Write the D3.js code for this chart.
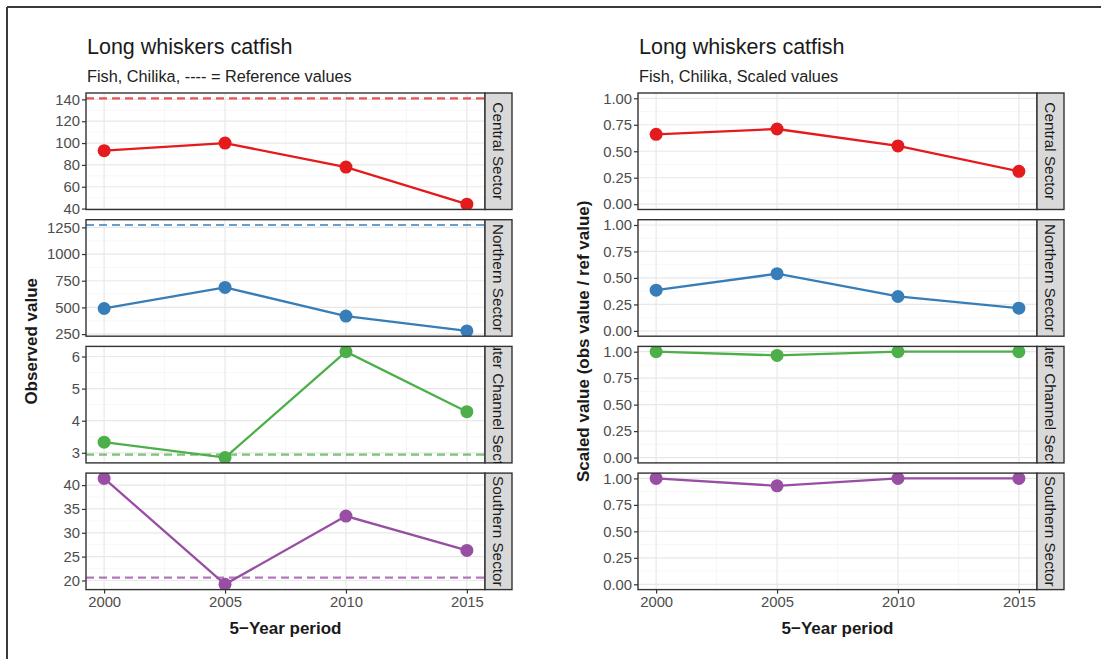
<!DOCTYPE html>
<html>
<head>
<meta charset="utf-8">
<script src="https://cdn.jsdelivr.net/npm/d3@7"></script>
<style>
  html, body { margin: 0; padding: 0; background: #fff; }
  svg { display: block; font-family: "Liberation Sans", Arial, sans-serif; }
</style>
</head>
<body>
<svg id="chart" width="1101" height="659"></svg>
<script>
// ---------------- data ----------------
const years = [2000, 2005, 2010, 2015];
const xTicks = [2000, 2005, 2010, 2015];
const sectors = ["Central Sector", "Northern Sector", "Outer Channel Sector", "Southern Sector"];
const sectorColors = ["#E41A1C", "#377EB8", "#4DAF4A", "#984EA3"];

const observedCentral = [93, 100, 78, 44];
const observedNorthern = [490, 687, 419, 280];
const observedChannel = [3.33, 2.85, 6.15, 4.28];
const observedSouthern = [41.4, 19.2, 33.5, 26.3];
const referenceValues = [141, 1272, 2.94, 20.6];

const scaledCentral = [0.66, 0.71, 0.55, 0.31];
const scaledNorthern = [0.385, 0.54, 0.325, 0.215];
const scaledChannel = [1.0, 0.965, 1.0, 1.0];
const scaledSouthern = [1.0, 0.93, 1.0, 1.0];

const yTicksCentral = [40, 60, 80, 100, 120, 140];
const yTicksNorthern = [250, 500, 750, 1000, 1250];
const yTicksChannel = [3, 4, 5, 6];
const yTicksSouthern = [20, 25, 30, 35, 40];
const yTicksScaled = [0, 0.25, 0.5, 0.75, 1];

const titleText = "Long whiskers catfish";
const subtitleLeft = "Fish, Chilika, ---- = Reference values";
const subtitleRight = "Fish, Chilika, Scaled values";
const yTitleLeft = "Observed value";
const yTitleRight = "Scaled value (obs value / ref value)";
const xTitle = "5\u2212Year period";

const observed = [observedCentral, observedNorthern, observedChannel, observedSouthern];
const scaled = [scaledCentral, scaledNorthern, scaledChannel, scaledSouthern];
const obsTicks = [yTicksCentral, yTicksNorthern, yTicksChannel, yTicksSouthern];

// ---------------- layout ----------------
const svg = d3.select("#chart");
const rowTop0 = 93, rowStep = 126.7, rowH = 116.5;
const stripW = 27;

// frame
svg.append("line").attr("x1", 7).attr("y1", 7).attr("x2", 1101).attr("y2", 7)
  .attr("stroke", "#3a3a3a").attr("stroke-width", 2);
svg.append("line").attr("x1", 7).attr("y1", 7).attr("x2", 7).attr("y2", 659)
  .attr("stroke", "#3a3a3a").attr("stroke-width", 2);

function expandDomain(vals) {
  const lo = d3.min(vals), hi = d3.max(vals);
  const pad = (hi - lo) * 0.05;
  return [lo - pad, hi + pad];
}
function minorBreaks(ticks, domain) {
  const step = ticks[1] - ticks[0];
  const out = [];
  for (let t = ticks[0] - step / 2; t <= domain[1]; t += step) {
    if (t >= domain[0]) out.push(t);
  }
  return out;
}

let clipId = 0;
function drawPlot(opts) {
  const { x0, x1, title, subtitle, yTitle, yTitleX, series, ticksList, domains, refs, tickFmt } = opts;
  const g = svg.append("g");
  const x = d3.scaleLinear().domain(expandDomain(years)).range([x0, x1]);
  const xMinor = minorBreaks(xTicks, x.domain());

  g.append("text").attr("x", x0 + 1).attr("y", 54).attr("font-size", 21.5).attr("fill", "#1a1a1a").text(title);
  g.append("text").attr("x", x0 + 1).attr("y", 82).attr("font-size", 16.3).attr("fill", "#222").text(subtitle);

  sectors.forEach((sec, i) => {
    const top = rowTop0 + i * rowStep, bot = top + rowH;
    const y = d3.scaleLinear().domain(domains[i]).range([bot, top]);
    const ticks = ticksList[i];
    const yMinor = minorBreaks(ticks, y.domain());
    const id = "clip" + (clipId++);
    g.append("clipPath").attr("id", id).append("rect")
      .attr("x", x0).attr("y", top).attr("width", x1 - x0).attr("height", rowH);
    const p = g.append("g");
    const inner = p.append("g").attr("clip-path", `url(#${id})`);
    inner.append("rect").attr("x", x0).attr("y", top).attr("width", x1 - x0).attr("height", rowH).attr("fill", "#fff");
    // minor grid
    inner.selectAll(".hm").data(yMinor).enter().append("line")
      .attr("x1", x0).attr("x2", x1).attr("y1", d => y(d)).attr("y2", d => y(d))
      .attr("stroke", "#f3f3f3").attr("stroke-width", 0.7);
    inner.selectAll(".vm").data(xMinor).enter().append("line")
      .attr("y1", top).attr("y2", bot).attr("x1", d => x(d)).attr("x2", d => x(d))
      .attr("stroke", "#f3f3f3").attr("stroke-width", 0.7);
    // major grid
    inner.selectAll(".hM").data(ticks).enter().append("line")
      .attr("x1", x0).attr("x2", x1).attr("y1", d => y(d)).attr("y2", d => y(d))
      .attr("stroke", "#e8e8e8").attr("stroke-width", 1.2);
    inner.selectAll(".vM").data(xTicks).enter().append("line")
      .attr("y1", top).attr("y2", bot).attr("x1", d => x(d)).attr("x2", d => x(d))
      .attr("stroke", "#e8e8e8").attr("stroke-width", 1.2);
    // reference line
    if (refs) {
      inner.append("line").attr("x1", x0).attr("x2", x1)
        .attr("y1", y(refs[i])).attr("y2", y(refs[i]))
        .attr("stroke", sectorColors[i]).attr("stroke-opacity", 0.75)
        .attr("stroke-width", 2.2).attr("stroke-dasharray", "8,5");
    }
    const pts = years.map((yr, k) => [yr, series[i][k]]);
    inner.append("path").datum(pts)
      .attr("d", d3.line().x(d => x(d[0])).y(d => y(d[1])))
      .attr("fill", "none").attr("stroke", sectorColors[i]).attr("stroke-width", 2.3);
    inner.selectAll(".pt").data(pts).enter().append("circle")
      .attr("cx", d => x(d[0])).attr("cy", d => y(d[1])).attr("r", 6.5)
      .attr("fill", sectorColors[i]);
    // border
    p.append("rect").attr("x", x0).attr("y", top).attr("width", x1 - x0).attr("height", rowH)
      .attr("fill", "none").attr("stroke", "#333").attr("stroke-width", 1.4);
    // y axis
    const ax = p.append("g").attr("transform", `translate(${x0},0)`)
      .call(d3.axisLeft(y).tickValues(ticks).tickSize(4).tickPadding(2).tickFormat(tickFmt));
    ax.select(".domain").remove();
    ax.selectAll(".tick line").attr("stroke", "#333").attr("stroke-width", 1.2);
    ax.selectAll(".tick text").attr("fill", "#4d4d4d").attr("font-size", 14.8)
      .attr("font-family", "Liberation Sans, Arial, sans-serif");
    // strip
    const sid = "sclip" + (clipId++);
    g.append("clipPath").attr("id", sid).append("rect")
      .attr("x", x1).attr("y", top).attr("width", stripW).attr("height", rowH);
    p.append("rect").attr("x", x1).attr("y", top).attr("width", stripW).attr("height", rowH)
      .attr("fill", "#d9d9d9").attr("stroke", "#333").attr("stroke-width", 1.4);
    p.append("g").attr("clip-path", `url(#${sid})`).append("text")
      .attr("transform", `translate(${x1 + stripW / 2},${top + rowH / 2}) rotate(90)`)
      .attr("text-anchor", "middle").attr("dy", "0.35em")
      .attr("font-size", 15.3).attr("fill", "#1a1a1a").text(sec);

    if (i === sectors.length - 1) {
      const xa = p.append("g").attr("transform", `translate(0,${bot})`)
        .call(d3.axisBottom(x).tickValues(xTicks).tickSize(4).tickPadding(3).tickFormat(d3.format("d")));
      xa.select(".domain").remove();
      xa.selectAll(".tick line").attr("stroke", "#333").attr("stroke-width", 1.2);
      xa.selectAll(".tick text").attr("fill", "#4d4d4d").attr("font-size", 14.8)
        .attr("font-family", "Liberation Sans, Arial, sans-serif");
    }
  });

  g.append("text").attr("x", (x0 + x1) / 2).attr("y", 634).attr("text-anchor", "middle")
    .attr("font-size", 17).attr("font-weight", "bold").attr("fill", "#1a1a1a").text(xTitle);
  const cy = (rowTop0 + rowTop0 + 3 * rowStep + rowH) / 2;
  g.append("text").attr("transform", `translate(${yTitleX},${cy}) rotate(-90)`)
    .attr("text-anchor", "middle").attr("font-size", 17).attr("font-weight", "bold")
    .attr("fill", "#1a1a1a").text(yTitle);
}

drawPlot({
  x0: 86, x1: 485, title: titleText, subtitle: subtitleLeft, yTitle: yTitleLeft, yTitleX: 37,
  series: observed, ticksList: obsTicks,
  domains: observed.map((s, i) => expandDomain(s.concat([referenceValues[i]]))),
  refs: referenceValues, tickFmt: d3.format("d")
});
drawPlot({
  x0: 638, x1: 1037, title: titleText, subtitle: subtitleRight, yTitle: yTitleRight, yTitleX: 589,
  series: scaled, ticksList: sectors.map(() => yTicksScaled),
  domains: sectors.map(() => expandDomain([0, 1])),
  refs: null, tickFmt: d3.format(".2f")
});
</script>
</body>
</html>
